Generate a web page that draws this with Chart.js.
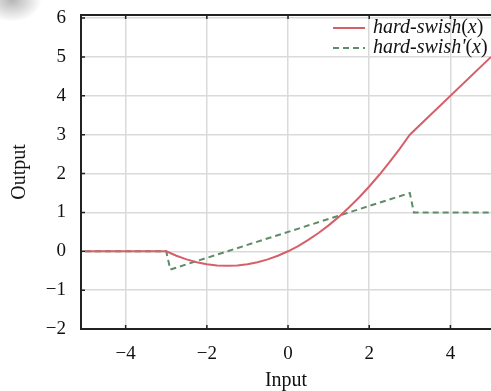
<!DOCTYPE html>
<html>
<head>
<meta charset="utf-8">
<script src="https://cdn.jsdelivr.net/npm/chart.js@4.4.0/dist/chart.umd.min.js"></script>
<style>
  html, body { margin: 0; padding: 0; background: #fff; }
  #wrap { position: relative; width: 491px; height: 391px; overflow: hidden; }
  #blob { position: absolute; left: -18px; top: -22px; width: 60px; height: 44px;
          background: radial-gradient(ellipse at center, rgba(120,120,120,0.55), rgba(160,160,160,0) 70%); }
</style>
</head>
<body>
<div id="wrap">
  <canvas id="chart" width="491" height="391"></canvas>
  <div id="blob"></div>
</div>
<script>
// values
const swishX = [-5, -3, -2.75, -2.5, -2.25, -2, -1.75, -1.5, -1.25, -1, -0.75, -0.5, -0.25,
                0, 0.25, 0.5, 0.75, 1, 1.25, 1.5, 1.75, 2, 2.25, 2.5, 2.75, 3, 5];
const swishY = [0, 0, -0.115, -0.208, -0.281, -0.333, -0.365, -0.375, -0.365, -0.333, -0.281, -0.208, -0.115,
                0, 0.135, 0.292, 0.469, 0.667, 0.885, 1.125, 1.385, 1.667, 1.969, 2.292, 2.635, 3, 5];
const derivX = [-5, -3, -2.9, 3, 3.1, 5];
const derivY = [0, 0, -0.47, 1.5, 1.0, 1.0];
const xTicks = [-4, -2, 0, 2, 4];
const yTicks = [-2, -1, 0, 1, 2, 3, 4, 5, 6];
const labels = ['hard-swish(x)', "hard-swish'(x)"];

const SERIF = "'Liberation Serif', 'DejaVu Serif', serif";
const red = '#d6606a';
const green = '#5e8c68';

function pts(xs, ys) {
  return xs.map((x, i) => ({ x: x, y: ys[i] }));
}
function fmt(v) {
  return v < 0 ? '\u2212' + Math.abs(v) : String(v);
}

// inward ticks, top frame line and the legend in the top right
const extras = {
  id: 'extras',
  afterDraw(chart) {
    const ctx = chart.ctx;
    const a = chart.chartArea;
    const xs = chart.scales.x, ys = chart.scales.y;
    ctx.save();
    ctx.strokeStyle = '#222';
    ctx.lineWidth = 2;
    ctx.beginPath();
    ctx.moveTo(a.left - 1, a.top);
    ctx.lineTo(a.right, a.top);
    ctx.stroke();
    ctx.lineWidth = 1.5;
    ctx.beginPath();
    xTicks.forEach(v => {
      const px = xs.getPixelForValue(v);
      ctx.moveTo(px, a.bottom);
      ctx.lineTo(px, a.bottom - 4);
      ctx.moveTo(px, a.top);
      ctx.lineTo(px, a.top + 4);
    });
    yTicks.forEach(v => {
      const py = ys.getPixelForValue(v);
      ctx.moveTo(a.left, py);
      ctx.lineTo(a.left + 4, py);
    });
    ctx.stroke();

    // legend
    chart.data.datasets.forEach((ds, i) => {
      const y = 28 + i * 20;
      ctx.strokeStyle = ds.borderColor;
      ctx.lineWidth = 2;
      ctx.setLineDash(ds.borderDash || []);
      ctx.beginPath();
      ctx.moveTo(333, y);
      ctx.lineTo(365, y);
      ctx.stroke();
      ctx.setLineDash([]);
      ctx.fillStyle = '#111';
      ctx.textBaseline = 'middle';
      const name = ds.label.slice(0, ds.label.indexOf('('));
      let x = 373;
      const parts = [
        [name, 'italic'],
        ['(', 'normal'],
        ['x', 'italic'],
        [')', 'normal']
      ];
      parts.forEach(p => {
        ctx.font = p[1] + ' 20px ' + SERIF;
        ctx.fillText(p[0], x, y);
        x += ctx.measureText(p[0]).width;
      });
    });
    ctx.restore();
  }
};

new Chart(document.getElementById('chart'), {
  type: 'scatter',
  data: {
    datasets: [
      {
        label: labels[0],
        data: pts(swishX, swishY),
        showLine: true,
        borderColor: red,
        borderWidth: 2,
        pointRadius: 0,
        fill: false
      },
      {
        label: labels[1],
        data: pts(derivX, derivY),
        showLine: true,
        borderColor: green,
        borderWidth: 2,
        borderDash: [6, 4],
        pointRadius: 0,
        fill: false
      }
    ]
  },
  options: {
    responsive: false,
    animation: false,
    layout: { padding: { left: 0, top: 15, right: 0, bottom: 0 } },
    plugins: {
      legend: { display: false },
      tooltip: { enabled: false }
    },
    scales: {
      x: {
        type: 'linear',
        min: -5.1,
        max: 5,
        afterBuildTicks: s => { s.ticks = xTicks.map(v => ({ value: v })); },
        afterFit: s => { s.height = 62; s.paddingLeft = 0; s.paddingRight = 0; },
        grid: { color: '#dadada', lineWidth: 1.5, drawTicks: false },
        border: { color: '#222', width: 2 },
        ticks: { padding: 14, color: '#111', font: { family: SERIF, size: 19 }, callback: fmt },
        title: { display: true, text: 'Input', color: '#111', padding: { top: 0, bottom: 0 }, font: { family: SERIF, size: 20, lineHeight: 1 } }
      },
      y: {
        type: 'linear',
        min: -2,
        max: 6.08,
        afterBuildTicks: s => { s.ticks = yTicks.map(v => ({ value: v })); },
        afterFit: s => { s.width = 81; s.paddingTop = 0; s.paddingBottom = 0; },
        grid: { color: '#dadada', lineWidth: 1.5, drawTicks: false },
        border: { color: '#222', width: 2 },
        ticks: { padding: 15, color: '#111', font: { family: SERIF, size: 19 }, callback: fmt },
        title: { display: true, text: 'Output', color: '#111', padding: { top: 8, bottom: 0 }, font: { family: SERIF, size: 20 } }
      }
    }
  },
  plugins: [extras]
});
</script>
</body>
</html>
